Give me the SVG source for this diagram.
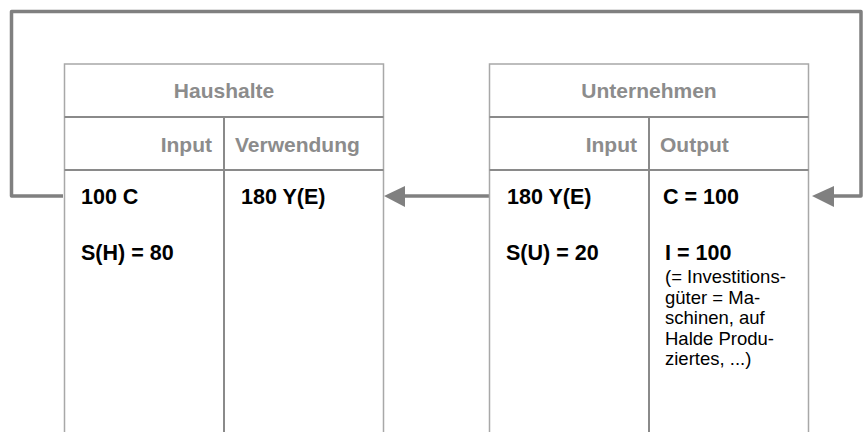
<svg xmlns="http://www.w3.org/2000/svg" width="867" height="432" viewBox="0 0 867 432">
  <style>
    .frame { fill: #ffffff; stroke: #a8a8a8; stroke-width: 1.5; }
    .rule { stroke: #8a8a8a; stroke-width: 2; fill: none; }
    .hdr { font-family: "Liberation Sans", Arial, sans-serif; font-weight: bold; font-size: 21px; fill: #8c8c8c; }
    .val { font-family: "Liberation Sans", Arial, sans-serif; font-weight: bold; font-size: 21.5px; fill: #000000; }
    .note { font-family: "Liberation Sans", Arial, sans-serif; font-size: 18.5px; fill: #000000; }
    .conn { stroke: #808080; stroke-width: 3.5; fill: none; stroke-linejoin: round; }
    .head { fill: #808080; }
  </style>

  <g id="connectors">
    <path class="conn" d="M 63 196 L 11.5 196 L 11.5 11.5 L 861 11.5 L 861 196 L 832 196"/>
    <polygon class="head" points="812,196 834,186 834,207"/>
    <path class="conn" d="M 489 196 L 403 196"/>
    <polygon class="head" points="384,196 405,186 405,207"/>
  </g>

  <g id="haushalte">
    <path class="frame" d="M 64.5 440 L 64.5 64 L 383.5 64 L 383.5 440"/>
    <line class="rule" x1="64.5" y1="117" x2="383.5" y2="117"/>
    <line class="rule" x1="64.5" y1="170" x2="383.5" y2="170"/>
    <line class="rule" x1="224" y1="117" x2="224" y2="432"/>
    <text class="hdr" x="224" y="98" text-anchor="middle">Haushalte</text>
    <text class="hdr" x="212" y="152" text-anchor="end">Input</text>
    <text class="hdr" x="235" y="152">Verwendung</text>
    <text class="val" x="81" y="204">100 C</text>
    <text class="val" x="81" y="260">S(H) = 80</text>
    <text class="val" x="241" y="204">180 Y(E)</text>
  </g>

  <g id="unternehmen">
    <path class="frame" d="M 489.5 440 L 489.5 64 L 808.5 64 L 808.5 440"/>
    <line class="rule" x1="489.5" y1="117" x2="808.5" y2="117"/>
    <line class="rule" x1="489.5" y1="170" x2="808.5" y2="170"/>
    <line class="rule" x1="649" y1="117" x2="649" y2="432"/>
    <text class="hdr" x="649" y="98" text-anchor="middle">Unternehmen</text>
    <text class="hdr" x="637" y="152" text-anchor="end">Input</text>
    <text class="hdr" x="660" y="152">Output</text>
    <text class="val" x="507" y="204">180 Y(E)</text>
    <text class="val" x="506" y="260">S(U) = 20</text>
    <text class="val" x="663" y="204">C = 100</text>
    <text class="val" x="665" y="260">I = 100</text>
    <text class="note" x="665" y="283">(= Investitions-</text>
    <text class="note" x="665" y="303.5">güter = Ma-</text>
    <text class="note" x="665" y="324">schinen, auf</text>
    <text class="note" x="665" y="344.5">Halde Produ-</text>
    <text class="note" x="665" y="365">ziertes, ...)</text>
  </g>
</svg>
